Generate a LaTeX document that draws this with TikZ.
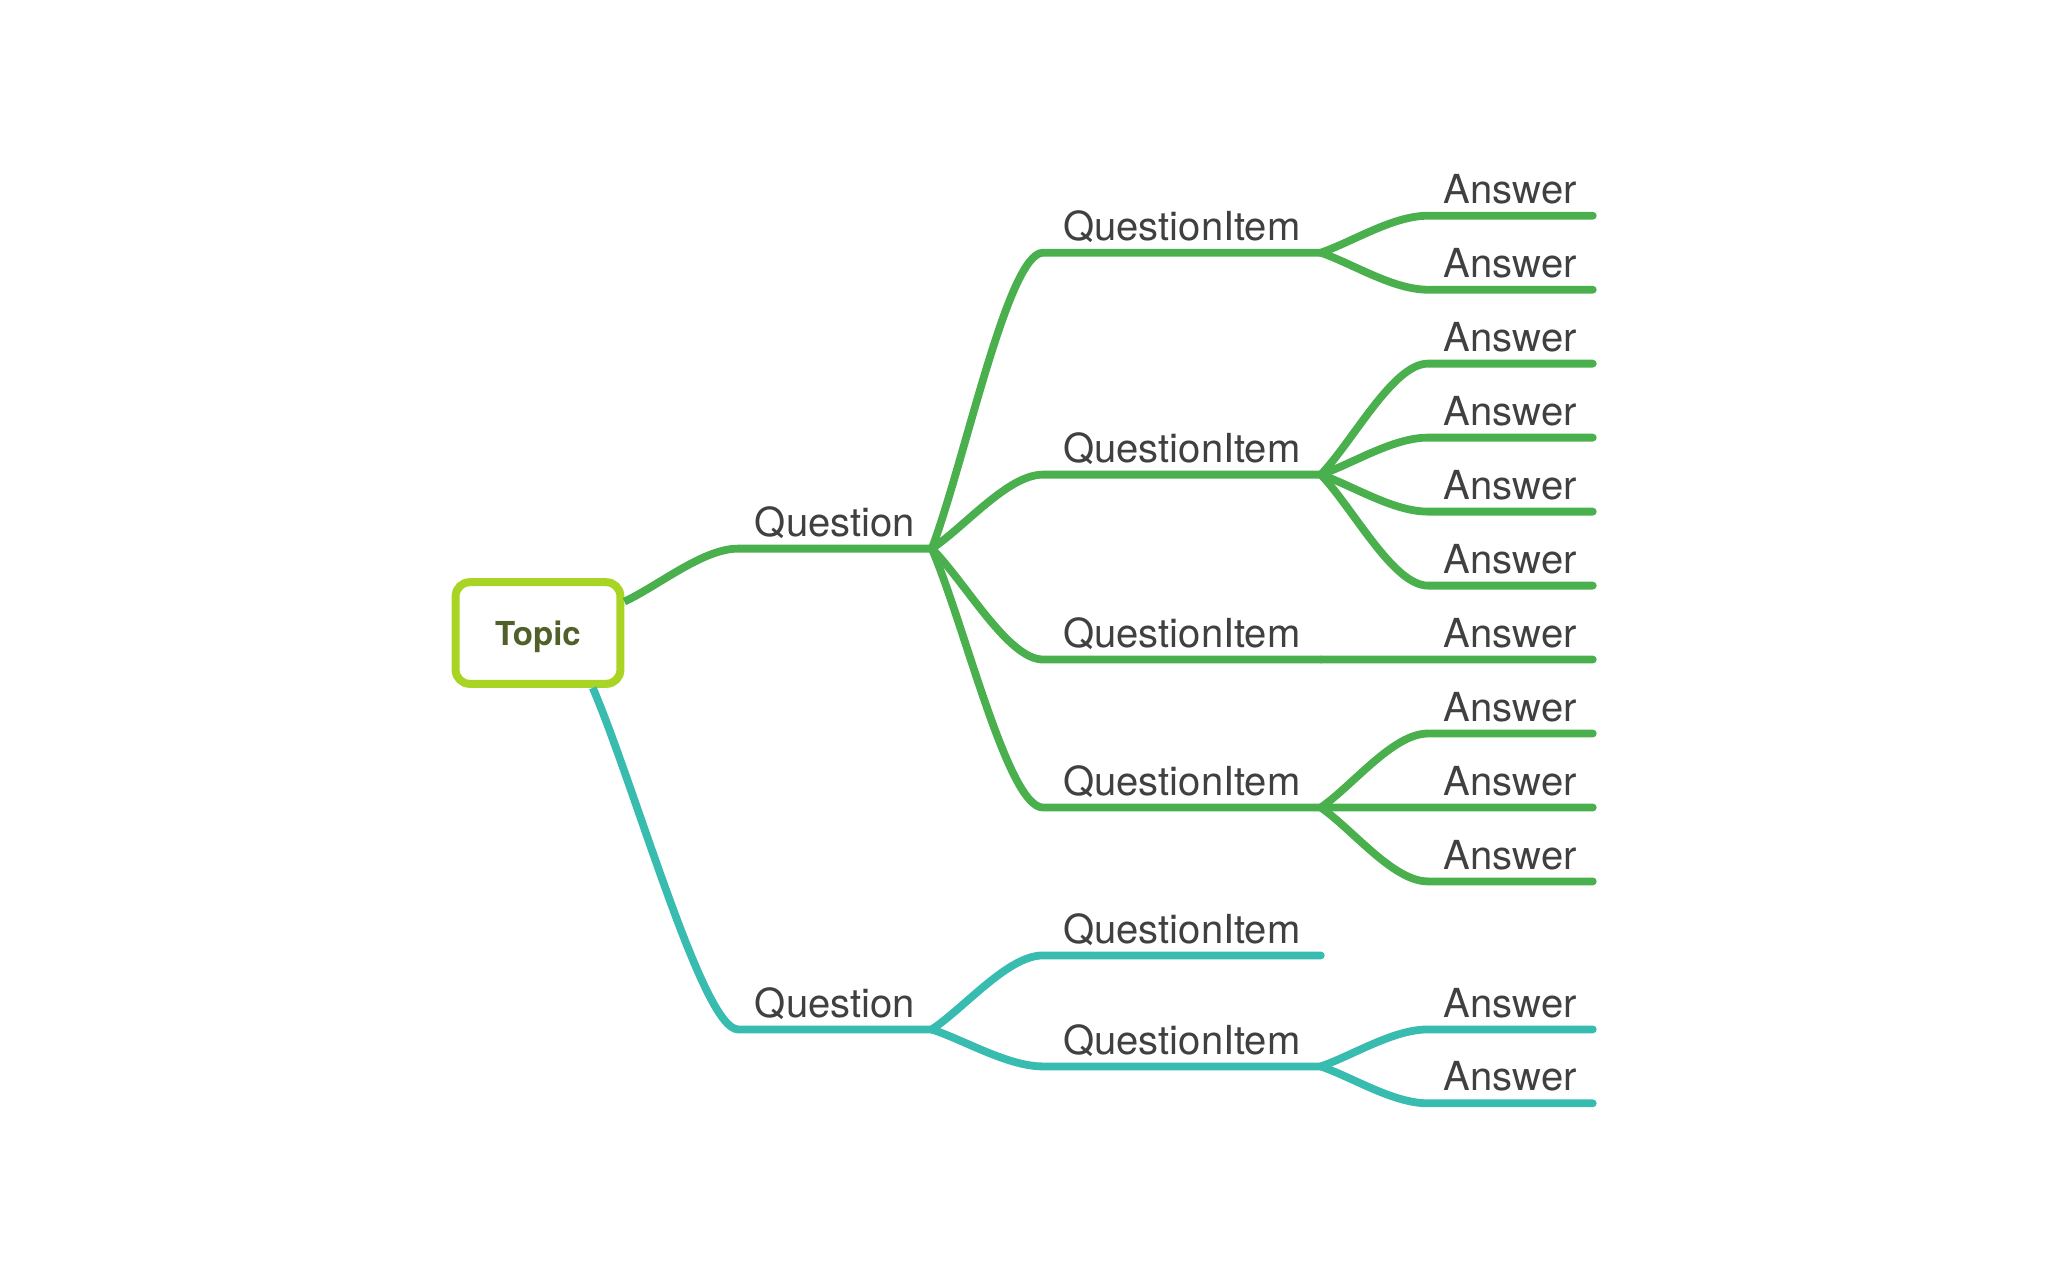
\documentclass[tikz,border=0pt]{standalone}
\usepackage{fontspec}
\setmainfont{TeX Gyre Heros}
\usepackage{xcolor}
\usetikzlibrary{calc}

\definecolor{qgreen}{HTML}{4AB04E}
\definecolor{qteal}{HTML}{38BCB0}
\definecolor{lime}{HTML}{AAD424}
\definecolor{olive}{HTML}{4F6129}
\definecolor{ink}{HTML}{404040}

\begin{document}
\begin{tikzpicture}[x=0.5pt,y=-0.5pt,
  branch/.style={line width=3.9pt,line cap=round},
  leaf/.style={anchor=south west,inner xsep=0pt,inner ysep=6pt,text depth=0pt,text=ink,font=\fontsize{20}{24}\selectfont},
  qnode/.style={leaf,minimum width=96.5pt},
  qinode/.style={leaf,minimum width=138.5pt},
  anode/.style={leaf,minimum width=82pt}]
\useasboundingbox (0,0) rectangle (2048,1266);

\node[draw=lime,line width=4pt,rounded corners=7pt,fill=white,minimum width=82.4pt,minimum height=50.8pt,text depth=0pt,
  font=\bfseries\fontsize{16.5}{20}\selectfont,text=olive] (topic) at (538,633) {Topic};

\node[qnode] (q1) at (738,548.6) {Question};
\node[qnode] (q2) at (738,1029.4) {Question};
\draw[branch,qgreen,line cap=butt] (topic.20) .. controls ($(topic.20)!0.3!(q1.south west)$) and +(-35,0) .. (q1.south west) -- (q1.south east);
\draw[branch,qteal,line cap=butt] (topic.-45) .. controls ($(topic.-45)!0.3!(q2.south west)$) and +(-35,0) .. (q2.south west) -- (q2.south east);

\foreach \n/\y/\p/\c in {qi1/252.7/q1/qgreen, qi2/474.6/q1/qgreen, qi3/659.5/q1/qgreen, qi4/807.5/q1/qgreen,
                         qi5/955.4/q2/qteal, qi6/1066.4/q2/qteal}{
  \node[qinode] (\n) at (1043,\y) {QuestionItem};
  \draw[branch,\c] (\p.south east) .. controls ($(\p.south east)!0.3!(\n.south west)$) and +(-35,0) .. (\n.south west) -- (\n.south east);
}

\foreach \y/\p/\c [count=\i] in {215.7/qi1/qgreen, 289.7/qi1/qgreen,
    363.6/qi2/qgreen, 437.6/qi2/qgreen, 511.6/qi2/qgreen, 585.6/qi2/qgreen,
    659.5/qi3/qgreen,
    733.5/qi4/qgreen, 807.5/qi4/qgreen, 881.4/qi4/qgreen,
    1029.4/qi6/qteal, 1103.3/qi6/qteal}{
  \node[anode] (a\i) at (1428,\y) {Answer};
  \draw[branch,\c] (\p.south east) .. controls ($(\p.south east)!0.3!(a\i.south west)$) and +(-35,0) .. (a\i.south west) -- (a\i.south east);
}
\end{tikzpicture}
\end{document}
